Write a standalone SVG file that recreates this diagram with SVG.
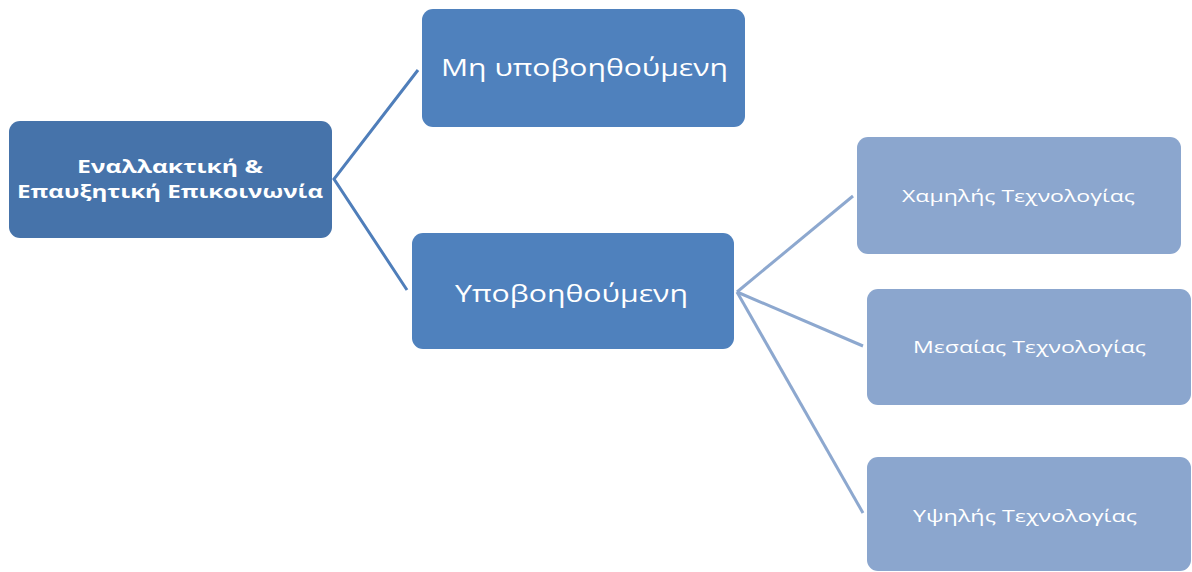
<svg xmlns="http://www.w3.org/2000/svg" width="1192" height="572" viewBox="0 0 1192 572">
<style>
.n1{fill:#4673AA}
.n2{fill:#4F81BD}
.n3{fill:#8BA6CE}
.t{fill:#fff;font-family:"Open Sans","Noto Sans","DejaVu Sans",sans-serif;text-anchor:start}
.c1{stroke:#4F7EBA;stroke-width:3;fill:none}
.c2{stroke:#8DA8CF;stroke-width:3;fill:none}
</style>
<rect width="1192" height="572" fill="#fff"/>
<g id="connectors">
<polyline class="c1" points="418,70 334,179 407,290"/>
<line class="c2" x1="737" y1="292" x2="853" y2="196"/>
<line class="c2" x1="737" y1="292" x2="863" y2="346"/>
<line class="c2" x1="737" y1="292" x2="863" y2="513"/>
</g>
<g id="root">
<rect class="n1" x="9" y="121" width="323" height="117" rx="11"/>
<text class="t" x="77" y="173" font-size="18" font-weight="bold" textLength="186" lengthAdjust="spacingAndGlyphs">Εναλλακτική &amp;</text>
<text class="t" x="17" y="198" font-size="18" font-weight="bold" textLength="306" lengthAdjust="spacingAndGlyphs">Επαυξητική Επικοινωνία</text>
</g>
<g id="mh">
<rect class="n2" x="422" y="9" width="323" height="118" rx="11"/>
<text class="t" x="441" y="76" font-size="24" textLength="287" lengthAdjust="spacingAndGlyphs">Μη υποβοηθούμενη</text>
</g>
<g id="ypo">
<rect class="n2" x="412" y="233" width="322" height="116" rx="11"/>
<text class="t" x="455" y="302" font-size="24" textLength="233" lengthAdjust="spacingAndGlyphs">Υποβοηθούμενη</text>
</g>
<g id="xam">
<rect class="n3" x="857" y="137" width="324" height="117" rx="11"/>
<text class="t" x="902" y="202" font-size="17" textLength="233" lengthAdjust="spacingAndGlyphs">Χαμηλής Τεχνολογίας</text>
</g>
<g id="mes">
<rect class="n3" x="867" y="289" width="324" height="116" rx="11"/>
<text class="t" x="913" y="353" font-size="17" textLength="233" lengthAdjust="spacingAndGlyphs">Μεσαίας Τεχνολογίας</text>
</g>
<g id="ypsi">
<rect class="n3" x="867" y="457" width="324" height="114" rx="11"/>
<text class="t" x="913" y="522" font-size="17" textLength="224" lengthAdjust="spacingAndGlyphs">Υψηλής Τεχνολογίας</text>
</g>
</svg>
